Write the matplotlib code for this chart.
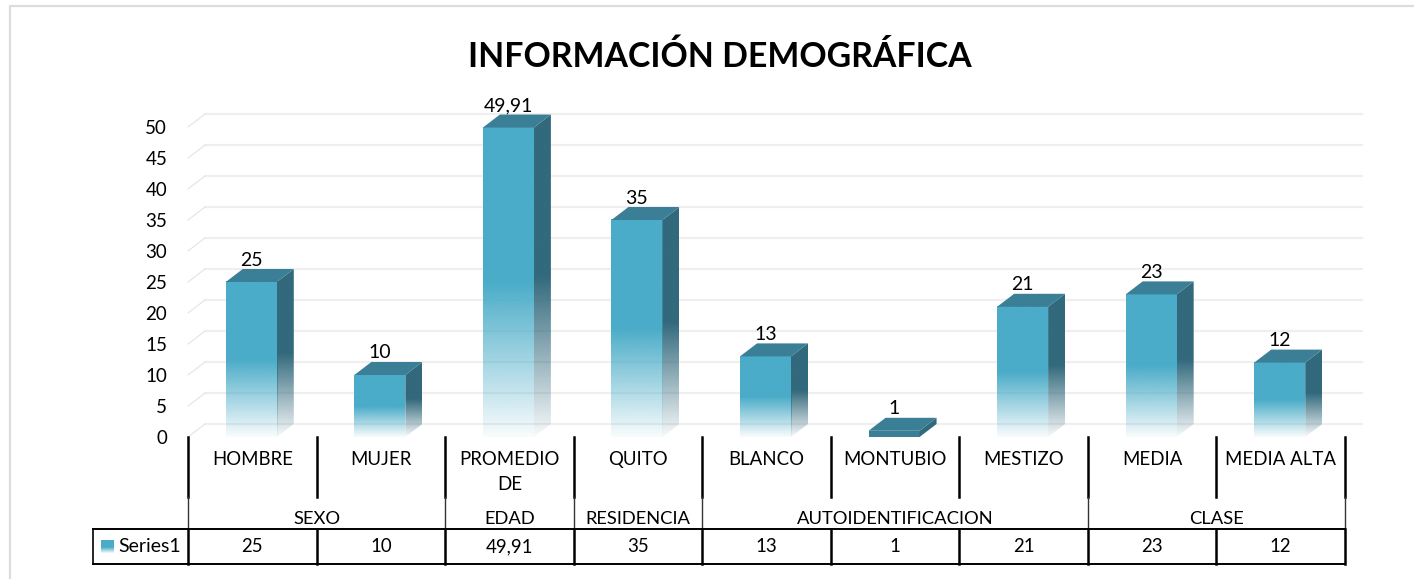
import numpy as np
import matplotlib
matplotlib.use("Agg")
import matplotlib.pyplot as plt
from matplotlib.colors import to_rgb
from matplotlib.patches import Polygon

plt.rcParams['font.family'] = ['Lato', 'DejaVu Sans']

labels = ["HOMBRE", "MUJER", "PROMEDIO\nDE", "QUITO", "BLANCO", "MONTUBIO", "MESTIZO", "MEDIA", "MEDIA ALTA"]
values = [25, 10, 49.91, 35, 13, 1, 21, 23, 12]
value_text = ["25", "10", "49,91", "35", "13", "1", "21", "23", "12"]
groups = ["SEXO", "EDAD", "RESIDENCIA", "AUTOIDENTIFICACION", "CLASE"]
group_sizes = [2, 1, 1, 3, 2]
yticks = [0, 5, 10, 15, 20, 25, 30, 35, 40, 45, 50]

W, H = 1414, 579
FRONT = "#4aacc8"
SIDE = "#32697c"
TOP = "#3a7f96"
GRID = "#efefef"


def fig_axes(x0, y0, x1, y1):
    # pixel box measured from the top left
    return fig.add_axes([x0 / W, 1 - y1 / H, (x1 - x0) / W, (y1 - y0) / H])


def fade(color, solid=0.5):
    # top part solid, lower part goes to nearly white
    a = np.ones(200)
    n = int(200 * solid)
    a[n:] = np.linspace(1, 0.04, 200 - n)
    img = np.ones((200, 1, 4))
    img[:, :, :3] = to_rgb(color)
    img[:, 0, 3] = a
    return img


fig = plt.figure(figsize=(W / 100, H / 100), dpi=100)

# frame, only top and left show in the source
bg = fig.add_axes([0, 0, 1, 1])
bg.set_xlim(0, W)
bg.set_ylim(H, 0)
bg.axis("off")
bg.plot([10, 10, W], [H, 6, 6], color="#dcdcdc", lw=1.6)
bg.text(720, 57, "INFORMACIÓN DEMOGRÁFICA", ha="center", va="center", fontsize=24.4, fontweight="bold", color="black")

ax = fig_axes(188, 127, 1345, 437)
ax.set_xlim(-0.5, 8.5)
ax.set_ylim(0, 50)
ax.patch.set_alpha(0)
for s in ax.spines.values():
    s.set_visible(False)
ax.set_xticks([])
ax.set_yticks(yticks)
ax.tick_params(axis="y", length=0, pad=15, labelsize=13.5)

px = 1157 / 9
dx = 17 / px
dy = 13 / 6.2
bw = 51 / px
shift = -1 / px  # bars sit a pixel left of the cell centres

for v in yticks:
    ax.plot([-0.5 + dx, 8.5 + dx], [v + dy, v + dy], color=GRID, lw=1.6, clip_on=False, zorder=1)
    ax.plot([-0.5, -0.5 + dx], [v, v + dy], color="#e4e4e4", lw=0.8, clip_on=False, zorder=1)

for i, v in enumerate(values):
    l, r = i + shift - bw / 2, i + shift + bw / 2
    if v < 2:
        # flat plate, no room for a gradient
        ax.add_patch(Polygon([(l, 0), (r, 0), (r, v), (l, v)], fc=TOP, ec="none", zorder=3, clip_on=False))
        ax.add_patch(Polygon([(r, 0), (r + dx, dy), (r + dx, v + dy), (r, v)], fc=SIDE, ec="none", zorder=3, clip_on=False))
    else:
        ax.imshow(fade(FRONT), extent=(l, r, 0, v), aspect="auto", zorder=3, clip_on=False)
        im = ax.imshow(fade(SIDE), extent=(r, r + dx, 0, v + dy), aspect="auto", zorder=3)
        im.set_clip_path(Polygon([(r, 0), (r + dx, dy), (r + dx, v + dy), (r, v)], transform=ax.transData))
        im.set_clip_box(fig.bbox)
    ax.add_patch(Polygon([(l, v), (r, v), (r + dx, v + dy), (l + dx, v + dy)], fc=TOP, ec="none", zorder=4, clip_on=False))
    ax.annotate(value_text[i], (i + shift, v + dy), xytext=(0, 9 * 0.72), textcoords="offset points", ha="center", va="center",
                fontsize=14, annotation_clip=False)
ax.set_xlim(-0.5, 8.5)
ax.set_ylim(0, 50)

# data table under the chart, y in pixels below the axis
tb = fig_axes(188, 437, 1345, 564)
tb.set_xlim(-0.5, 8.5)
tb.set_ylim(127, 0)
tb.axis("off")
edges = np.arange(10) - 0.5
group_edges = np.cumsum([0] + group_sizes) - 0.5

for i, x in enumerate(edges):
    tb.plot([x, x], [0, 60], color="black", lw=1.8, clip_on=False)
    tb.plot([x, x], [92, 127], color="black", lw=1.8, clip_on=False)
for x in group_edges:
    tb.plot([x, x], [60, 92], color="#333333", lw=1.0, clip_on=False)

left = -0.5 - 95 / px
tb.plot([left, 8.5], [92, 92], color="black", lw=1.4, clip_on=False)
tb.plot([left, 8.5], [127, 127], color="black", lw=1.4, clip_on=False)
tb.plot([left, left], [92, 127], color="black", lw=1.2, clip_on=False)

for i, name in enumerate(labels):
    tb.text(i, 14, name, ha="center", va="top", fontsize=13.4, linespacing=1.6)
    tb.text(i, 110, value_text[i], ha="center", va="center", fontsize=13.4)
for j, name in enumerate(groups):
    tb.text((group_edges[j] + group_edges[j + 1]) / 2, 82, name, ha="center", va="center", fontsize=13.2)

bg.imshow(fade(FRONT, 0.55), extent=(101, 114, 553, 540), aspect="auto")
bg.set_xlim(0, W)
bg.set_ylim(H, 0)
bg.text(118, 547, "Series1", ha="left", va="center", fontsize=14)

fig.savefig("out.png", dpi=100)
